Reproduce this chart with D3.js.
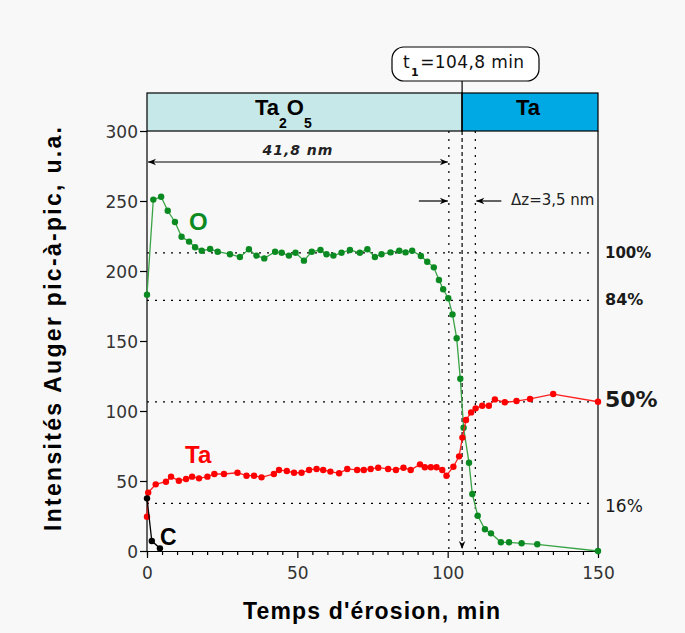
<!DOCTYPE html>
<html><head><meta charset="utf-8">
<script src="https://cdn.jsdelivr.net/npm/d3@7"></script>
<style>body{margin:0;background:#f8f8f8;}svg{display:block;}</style>
</head><body>
<script>
// ---- data ----
const oTime = [0,2.1,4.7,6.9,9.3,11.5,14,16,18.2,21,23.5,27.6,30.9,33.9,36.4,39,42.6,44.8,47.2,49.4,52.2,54.8,57.7,59.7,62,64.7,67.5,70.8,73.3,75.8,78,81,83.9,86,88.2,91.1,93.2,95.4,97.1,98.5,100.2,101.6,103,104.2,105.3,107.1,108.2,110,112.4,114.4,117.7,120.4,124.6,129.8,150];
const oVal  = [183,251,253,243,235,224.5,221,217,214.5,215.7,213.8,212,210,215.5,211,209,213.8,213,211,213,207.4,213.8,215,212,211,213,215,213,215.5,210,212,213.3,214.5,213.3,214.5,210.7,206.6,202.6,193.6,187,180.5,169,152,123,88,63,40.7,25.2,15.5,12.6,6.2,6.2,5.5,4.8,0];
const taTime = [0,0.4,2.9,6.3,8,10.6,13,15,17.3,20.1,22.4,25.6,30.1,33.1,35.6,38.1,42.2,43.9,46.5,48.9,51.4,53.9,56.4,58.6,61,63.9,66.6,69.9,72.1,74.4,76.9,80.2,82.8,85.3,87.7,90.8,92.4,94.4,96.3,98.2,99.6,101.9,103.8,104.9,106.1,107.8,109.3,111.5,113.7,115.7,119,122.9,127.4,135.1,150];
const taVal  = [24.5,41.7,47.6,49.5,53.1,50.2,51.4,53.1,51.9,53.1,55,55,55.9,53.8,53.8,52.6,55,57.9,57.1,55.9,55.9,57.9,58.6,57.9,56.7,55.5,58.6,57.9,57.9,58.6,59.5,58.6,57.9,59.5,57.9,61.9,59.8,59.8,59.8,57.9,53.8,60.2,67.6,81,93.6,99,101.9,103.8,103.8,108.3,106.2,107.1,108.6,112.1,106.6];
const cTime = [0,1.6,4.3];
const cVal  = [37.6,7.1,1.9];
const yTicks = [0,50,100,150,200,250,300];
const xTicks = [0,50,100,150];
const layers = ["Ta2O5","Ta"];
const t1 = 104.8;
const tBefore = 100.4, tAfter = 109.2;
const refLevels = [213,179,106.5,34];
const refLabels = ["100%","84%","50%","16%"];

const W=685,H=633;
const svg=d3.select("body").append("svg").attr("width",W).attr("height",H)
  .style("font-family","'DejaVu Sans',Verdana,sans-serif");
const x=d3.scaleLinear([0,150],[147,598]);
const y=d3.scaleLinear([0,300],[551,131]);
const headTop=93;
const arial="'Liberation Sans',Arial,sans-serif";

const defs=svg.append("defs");
defs.append("marker").attr("id","arr").attr("viewBox","0 0 10 10").attr("refX",10).attr("refY",5)
   .attr("markerWidth",11).attr("markerHeight",8).attr("markerUnits","userSpaceOnUse").attr("orient","auto-start-reverse")
   .append("path").attr("d","M0,1 L10,5 L0,9 L3,5 Z").attr("fill","#000");

// header bars
svg.append("rect").attr("x",x(0)).attr("y",headTop).attr("width",x(t1)-x(0)).attr("height",y(300)-headTop)
  .attr("fill","#c6e8e9").attr("stroke","#000").attr("stroke-width",1.2);
svg.append("rect").attr("x",x(t1)).attr("y",headTop).attr("width",x(150)-x(t1)).attr("height",y(300)-headTop)
  .attr("fill","#00a8e4").attr("stroke","#000").attr("stroke-width",1.2);
const h1=svg.append("text").attr("x",255).attr("y",115)
  .style("font-family",arial).style("font-weight","bold").style("font-size","22px");
h1.append("tspan").text("Ta");
h1.append("tspan").attr("dy",13).style("font-size","14px").style("font-weight","bold").text("2");
h1.append("tspan").attr("dy",-13).text("O");
h1.append("tspan").attr("dy",13).style("font-size","14px").style("font-weight","bold").text("5");
svg.append("text").attr("x",(x(t1)+x(150))/2-2).attr("y",115).attr("text-anchor","middle")
  .style("font-family",arial).style("font-weight","bold").style("font-size","22px").text(layers[1]);

// right border
svg.append("line").attr("x1",x(150)).attr("x2",x(150)).attr("y1",y(300)).attr("y2",y(0)).attr("stroke","#000").attr("stroke-width",1.2);

// reference dotted lines
refLevels.forEach(v=>{
  svg.append("line").attr("x1",x(0)).attr("x2",x(150)-4).attr("y1",y(v)).attr("y2",y(v))
   .attr("stroke","#000").attr("stroke-width",1.2).attr("stroke-dasharray","2,6");
});
[tBefore,tAfter].forEach(t=>{
  svg.append("line").attr("x1",x(t)).attr("x2",x(t)).attr("y1",y(300)).attr("y2",y(0))
   .attr("stroke","#000").attr("stroke-width",1.2).attr("stroke-dasharray","2,6");
});
// t1 line
svg.append("line").attr("x1",x(t1)).attr("x2",x(t1)).attr("y1",81).attr("y2",y(300)).attr("stroke","#000").attr("stroke-width",1.2);
svg.append("line").attr("x1",x(t1)).attr("x2",x(t1)).attr("y1",y(300)).attr("y2",y(0)-2)
  .attr("stroke","#000").attr("stroke-width",1.2).attr("stroke-dasharray","4,3").attr("marker-end","url(#arr)");
// t1 box
svg.append("rect").attr("x",392).attr("y",47).attr("width",147).attr("height",34).attr("rx",12)
  .attr("fill","#fff").attr("stroke","#000").attr("stroke-width",1.2);
const tt=svg.append("text").attr("x",403).attr("y",68).style("font-size","17px").style("letter-spacing","0.4px").attr("fill","#111");
tt.append("tspan").text("t");
tt.append("tspan").attr("dy",8).attr("dx",1).style("font-size","11px").style("font-weight","bold").text("1");
tt.append("tspan").attr("dy",-8).attr("dx",1).text("=104,8 min");

// 41,8 nm arrow
svg.append("line").attr("x1",x(0)+1).attr("x2",x(tBefore)-1).attr("y1",162).attr("y2",162)
  .attr("stroke","#000").attr("stroke-width",1.2).attr("marker-start","url(#arr)").attr("marker-end","url(#arr)");
svg.append("text").attr("x",(x(0)+x(tBefore))/2).attr("y",155).attr("text-anchor","middle")
  .style("font-style","italic").style("font-weight","bold").style("font-size","14px").style("letter-spacing","1px")
  .attr("fill","#222").text("41,8 nm");
// dz arrows
svg.append("line").attr("x1",x(tBefore)-30).attr("x2",x(tBefore)-1).attr("y1",201).attr("y2",201)
  .attr("stroke","#000").attr("stroke-width",1.2).attr("marker-end","url(#arr)");
svg.append("line").attr("x1",x(tAfter)+26).attr("x2",x(tAfter)+1).attr("y1",201).attr("y2",201)
  .attr("stroke","#000").attr("stroke-width",1.2).attr("marker-end","url(#arr)");
svg.append("text").attr("x",511).attr("y",205).style("font-size","15px").attr("fill","#222").text("\u0394z=3,5 nm");

// right labels
const rl=[{s:15,w:"bold",b:258},{s:16,w:"bold",b:305},{s:22,w:"bold",b:407},{s:17,w:"normal",b:512}];
refLevels.forEach((v,i)=>{
  svg.append("text").attr("x",605).attr("y",rl[i].b).style("font-size",rl[i].s+"px")
   .style("font-weight",rl[i].w).attr("fill","#1a1a1a").text(refLabels[i]);
});

// axes
const ya=svg.append("g").attr("transform",`translate(${x(0)},0)`)
  .call(d3.axisLeft(y).tickValues(yTicks).tickSize(7).tickPadding(2).tickFormat(d3.format("d")));
const xa=svg.append("g").attr("transform",`translate(0,${y(0)})`)
  .call(d3.axisBottom(x).tickValues(d3.range(0,151,5)).tickSize(4).tickFormat(d=>xTicks.includes(d)?d:""));
xa.selectAll(".tick line").attr("y2",d=>xTicks.includes(d)?7:4);
[ya,xa].forEach(g=>{
  g.selectAll("path,line").attr("stroke","#000").attr("stroke-width",1.2);
  g.selectAll("text").style("font-family","'DejaVu Sans',Verdana,sans-serif").style("font-size","17px").attr("fill","#333");
});
ya.select(".domain").attr("d",`M0,${y(300)}V${y(0)}`);
ya.selectAll("text").attr("dy","0.36em");
xa.selectAll("text").attr("y",28).attr("dy",0);

// axis titles
svg.append("text").attr("transform",`translate(61,329) rotate(-90)`).attr("text-anchor","middle")
  .attr("textLength",404).attr("lengthAdjust","spacing")
  .style("font-family",arial).style("font-weight","bold").style("font-size","23px").text("Intensités Auger pic-à-pic, u.a.");
svg.append("text").attr("x",371.5).attr("y",619).attr("text-anchor","middle")
  .attr("textLength",257).attr("lengthAdjust","spacing")
  .style("font-family",arial).style("font-weight","bold").style("font-size","23px").text("Temps d'érosion, min");

// series
function series(tArr,vArr,lineCol,dotCol){
  const pts=tArr.map((t,i)=>[t,vArr[i]]);
  svg.append("path").datum(pts).attr("fill","none").attr("stroke",lineCol).attr("stroke-width",1.3)
   .attr("d",d3.line().x(d=>x(d[0])).y(d=>y(d[1])));
  svg.append("g").selectAll("circle").data(pts).join("circle").attr("cx",d=>x(d[0])).attr("cy",d=>y(d[1]))
   .attr("r",3.2).attr("fill",dotCol);
}
series(oTime,oVal,"#3aa346","#0c8a22");
series(taTime,taVal,"#ff2020","#ff0000");
series(cTime,cVal,"#000","#000");

// series labels
const lab=(t,xx,yy,c,s)=>svg.append("text").attr("x",xx).attr("y",yy).style("font-family",arial)
  .style("font-weight","bold").style("font-size",s+"px").attr("fill",c).text(t);
lab("O",189,230,"#0c8a22",24);
lab("Ta",185,463,"#ff0000",24);
lab("C",160,545,"#000",23);
</script>
</body></html>
